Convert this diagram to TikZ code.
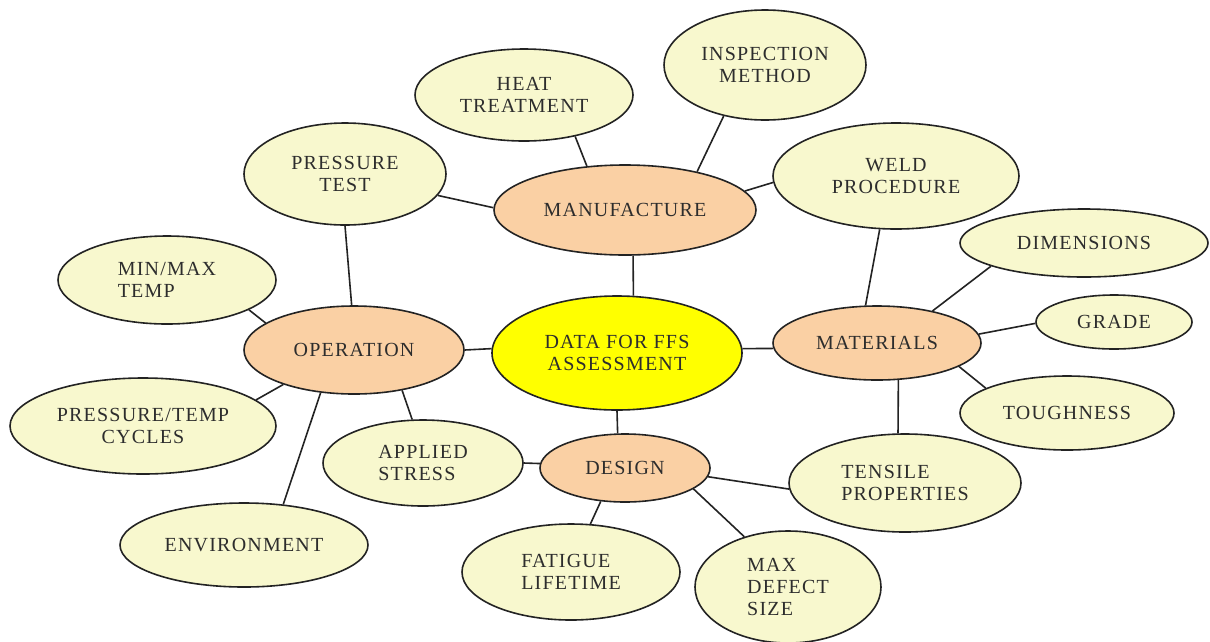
\documentclass[tikz,border=0pt]{standalone}
\usepackage{fontspec}
\setmainfont{Liberation Serif}[LetterSpace=6]
\usetikzlibrary{shapes.geometric}
\definecolor{paleyel}{RGB}{248,248,206}
\definecolor{peach}{RGB}{250,208,164}
\definecolor{core}{RGB}{255,255,0}
\definecolor{ink}{RGB}{35,35,35}
\definecolor{txt}{RGB}{45,45,45}
\begin{document}
\begin{tikzpicture}[x=1pt,y=-1pt,
  bub/.style={ellipse, draw=ink, line width=1.6pt, inner sep=0pt,
    font=\fontsize{20}{22}\selectfont, text=txt},
  leaf/.style={bub, fill=paleyel},
  hub/.style={bub, fill=peach},
  link/.style={draw=ink, line width=1.6pt},
  sz/.style 2 args={minimum width=#1pt, minimum height=#2pt}]
\fill[white] (0,0) rectangle (1210,641);
\useasboundingbox (0,0) rectangle (1210,641);

% centre and hubs
\node[bub, fill=core, sz={250}{114}, align=center] (data) at (617,353) {DATA FOR FFS\\ASSESSMENT};
\node[hub, sz={262}{90}] (manu) at (625,210) {MANUFACTURE};
\node[hub, sz={220}{88}] (oper) at (354,350) {OPERATION};
\node[hub, sz={208}{74}] (mat) at (877,343) {MATERIALS};
\node[hub, sz={170}{68}] (des) at (625,468) {DESIGN};

% outer items
\node[leaf, sz={218}{92}, align=center] (heat) at (524,95) {HEAT\\TREATMENT};
\node[leaf, sz={202}{110}, align=center] (insp) at (765,65) {INSPECTION\\METHOD};
\node[leaf, sz={202}{102}, align=center] (ptest) at (345,174) {PRESSURE\\TEST};
\node[leaf, sz={246}{106}, align=center] (weld) at (896,176) {WELD\\PROCEDURE};
\node[leaf, sz={248}{68}] (dim) at (1084,243) {DIMENSIONS};
\node[leaf, sz={156}{54}] (grade) at (1114,322) {GRADE};
\node[leaf, sz={214}{74}] (tough) at (1067,413) {TOUGHNESS};
\node[leaf, sz={218}{88}, align=left] (minmax) at (167,280) {MIN/MAX\\TEMP};
\node[leaf, sz={266}{96}, align=center] (ptc) at (143,426) {PRESSURE/TEMP\\CYCLES};
\node[leaf, sz={200}{86}, align=left] (applied) at (423,463) {APPLIED\\STRESS};
\node[leaf, sz={232}{98}, align=left] (tensile) at (905,483) {TENSILE\\PROPERTIES};
\node[leaf, sz={248}{84}] (env) at (244,545) {ENVIRONMENT};
\node[leaf, sz={218}{96}, align=left] (fatigue) at (571,572) {FATIGUE\\LIFETIME};
\node[leaf, sz={186}{112}, align=left] (maxdef) at (788,587) {MAX\\DEFECT\\SIZE};

% centre to hubs
\draw[link] (data.74) -- (manu.-80);
\draw[link] (data.178) -- (oper.0);
\draw[link] (data.2) -- (mat.183);
\draw[link] (data.270) -- (des.102);

% manufacture
\draw[link] (manu.131) -- (heat.-39);
\draw[link] (manu.28) -- (insp.231);
\draw[link] (manu.179) -- (ptest.-13);
\draw[link] (manu.9) -- (weld.183);

% operation
\draw[link] (oper.93) -- (ptest.270);
\draw[link] (oper.163) -- (minmax.-20);
\draw[link] (oper.206) -- (ptc.13);
\draw[link] (oper.232) -- (env.46);
\draw[link] (oper.-40) -- (applied.104);

% materials
\draw[link] (mat.107) -- (weld.253);
\draw[link] (mat.30) -- (dim.194);
\draw[link] (mat.5) -- (grade.181);
\draw[link] (mat.-16) -- (tough.163);
\draw[link] (mat.-60) -- (tensile.98);

% design
\draw[link] (des.177) -- (applied.0);
\draw[link] (des.234) -- (fatigue.68);
\draw[link] (des.-17) -- (maxdef.131);
\draw[link] (des.-6) -- (tensile.183);
\end{tikzpicture}
\end{document}
